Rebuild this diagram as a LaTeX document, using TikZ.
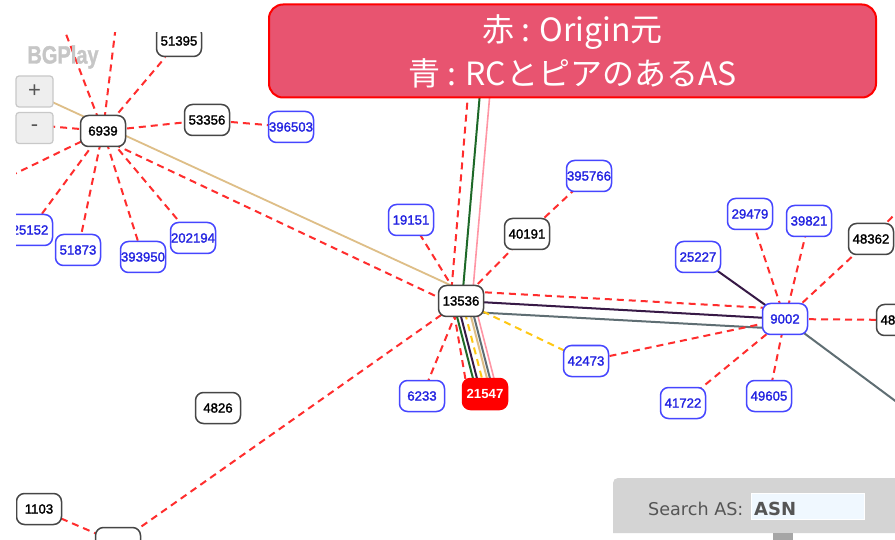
\documentclass[tikz,border=0pt]{standalone}
\usepackage{fontspec}
\setmainfont{Liberation Sans}
\newfontfamily\nodefont[FakeBold=1.8]{Liberation Sans}
\newfontfamily\logofont[BoldFeatures={FakeBold=1.5}]{Liberation Sans}
\newfontfamily\cjkfont{Noto Sans CJK JP}
\newfontfamily\dvfont{DejaVu Sans}
\pgfdeclarelayer{back}
\pgfdeclarelayer{edges}
\pgfsetlayers{back,edges,main}
\definecolor{dashred}{RGB}{255,45,45}
\definecolor{dashyellow}{RGB}{255,200,20}
\definecolor{nodegray}{RGB}{70,70,70}
\definecolor{nodeblue}{RGB}{70,70,255}
\definecolor{textblue}{RGB}{35,35,225}
\definecolor{originred}{RGB}{255,0,0}
\definecolor{tanline}{RGB}{222,190,135}
\definecolor{greenline}{RGB}{30,105,40}
\definecolor{pinkline}{RGB}{255,150,165}
\definecolor{purpleline}{RGB}{55,25,70}
\definecolor{slateline}{RGB}{95,110,115}
\definecolor{bannerfill}{RGB}{232,84,112}
\definecolor{panelgray}{RGB}{212,212,212}
\definecolor{btnfill}{RGB}{238,238,238}
\definecolor{btnline}{RGB}{200,200,200}
\definecolor{logogray}{RGB}{198,198,198}
\definecolor{inputfill}{RGB}{240,248,255}
\definecolor{searchtext}{RGB}{85,85,85}
\tikzset{
  asnode/.style={draw, rounded corners=8pt, minimum width=45pt, minimum height=31pt,
    inner sep=0pt, fill=white, line width=1.5pt, font=\nodefont\fontsize{13.2}{14}\selectfont},
  asblack/.style={asnode, draw=nodegray, text=black},
  asblue/.style={asnode, draw=nodeblue, text=textblue},
  asorigin/.style={asnode, draw=originred, fill=originred, text=white,
    font=\bfseries\fontsize{13.2}{14}\selectfont},
  rdash/.style={draw=dashred, line width=2pt, dash pattern=on 7pt off 5pt},
  ydash/.style={draw=dashyellow, line width=2pt, dash pattern=on 7pt off 5pt},
  pline/.style={line width=2pt},
  btnbox/.style={draw=btnline, fill=btnfill, line width=1.2pt, rounded corners=3pt,
    minimum width=37pt, minimum height=31pt, inner sep=0pt, text=searchtext,
    font=\fontsize{22}{24}\selectfont},
  bannerbox/.style={draw=originred, fill=bannerfill, line width=2pt, rounded corners=14pt,
    minimum width=607pt, minimum height=93pt, text=white, align=center,
    font=\cjkfont\fontsize{32}{44}\selectfont}
}
\begin{document}
\begin{tikzpicture}[x=1pt,y=-1pt]
\useasboundingbox (0,0) rectangle (895,540);
\begin{pgfonlayer}{back}
\fill[white] (0,0) rectangle (895,540);
\end{pgfonlayer}

% nodes
\begin{scope}
\clip (16,33) rectangle (895,540);
\node[asblack] (n51395) at (179,41) {51395};
\node[asblack] (n6939) at (103,131) {6939};
\node[asblack] (n53356) at (207,120) {53356};
\node[asblue] (n396503) at (291,127) {396503};
\node[asblue] (n25152) at (30,230) {25152};
\node[asblue] (n51873) at (78,250) {51873};
\node[asblue] (n393950) at (143,257) {393950};
\node[asblue] (n202194) at (193,238) {202194};
\node[asblue] (n19151) at (411,220) {19151};
\node[asblack] (n40191) at (527,234) {40191};
\node[asblue] (n395766) at (589,176) {395766};
\node[asblack] (n13536) at (461,301) {13536};
\node[asblue] (n42473) at (586,361) {42473};
\node[asblue] (n6233) at (422,396) {6233};
\node[asorigin] (n21547) at (485,394) {21547};
\node[asblue] (n29479) at (750,214) {29479};
\node[asblue] (n39821) at (809,221) {39821};
\node[asblack] (n48362) at (871,239) {48362};
\node[asblue] (n25227) at (698,257) {25227};
\node[asblue] (n9002) at (785,319) {9002};
\node[asblack] (n48x) at (899,320) {48\phantom{000}};
\node[asblue] (n41722) at (683,403) {41722};
\node[asblue] (n49605) at (769,396) {49605};
\node[asblack] (n4826) at (218,408) {4826};
\node[asblack] (n1103) at (39,509) {1103};
\node[asblack] (nbot) at (118,543) {};
\end{scope}

% edges
\begin{pgfonlayer}{edges}
\begin{scope}
\clip (16,33) rectangle (895,540);
\coordinate (cUL) at (53,0);
\coordinate (cU) at (119,0);
\coordinate (cL) at (0,122);
\coordinate (cLL) at (0,181);
\coordinate (cTan) at (0,78);
\coordinate (cUpR) at (476,0);
\coordinate (cUpG) at (488,0);
\coordinate (cUpP) at (498,0);
\coordinate (cSE) at (960,449);
\coordinate (cNE) at (920,188);
% 6939 star
\foreach \t in {cUL,cU,n51395,n53356,cL,cLL,n25152,n51873,n393950,n202194}
  \draw[rdash] (n6939.center) -- (\t);
\draw[tanline, line width=1.8pt] ([yshift=11pt]n13536.center) -- (cTan);
\draw[rdash] ([yshift=-8pt]n6939.center) -- ([yshift=-7pt]n13536.center);
\draw[rdash] (n53356.center) -- (n396503.center);
% 13536
\foreach \t in {n19151,n40191,n6233,nbot}
  \draw[rdash] (n13536.center) -- (\t.center);
\draw[rdash] (n40191.center) -- (n395766.center);
\draw[rdash] (n1103.center) -- (nbot.center);
\draw[rdash] ([xshift=-10.5pt]n13536.center) -- (cUpR);
\draw[pline, greenline] ([xshift=1pt]n13536.center) -- (cUpG);
\draw[pline, pinkline, line width=1.6pt] ([xshift=11pt]n13536.center) -- (cUpP);
% bundle to origin
\draw[rdash] ([xshift=-9pt]n13536.center) -- ([xshift=-17pt]n21547.center);
\draw[pline, greenline] ([xshift=-8pt]n13536.center) -- ([xshift=-8pt]n21547.center);
\draw[pline, purpleline] ([xshift=-4pt]n13536.center) -- ([xshift=-4pt]n21547.center);
\draw[ydash] ([xshift=1pt]n13536.center) -- ([xshift=1pt]n21547.center);
\draw[pline, tanline] ([xshift=6pt]n13536.center) -- ([xshift=6pt]n21547.center);
\draw[pline, slateline] ([xshift=9pt]n13536.center) -- ([xshift=9pt]n21547.center);
\draw[pline, pinkline, line width=1.6pt] ([xshift=13pt]n13536.center) -- ([xshift=13pt]n21547.center);
% to 9002
\draw[rdash] ([yshift=10pt]n13536.center) -- ([yshift=10pt]n9002.center);
\draw[pline, purpleline] (n13536.center) -- (n9002.center);
\draw[pline, slateline] ([yshift=-10.5pt]n13536.center) -- ([yshift=-10pt]n9002.center);
\draw[pline, slateline] (n9002.center) -- (cSE);
\draw[ydash] (n13536.center) -- (n42473.center);
\draw[rdash] (n42473.center) -- (n9002.center);
\draw[pline, purpleline] (n25227.center) -- (n9002.center);
\foreach \t in {n29479,n39821,n48362,n48x,n41722,n49605}
  \draw[rdash] (n9002.center) -- (\t.center);
\draw[rdash] (n48362.center) -- (cNE);
\end{scope}
\end{pgfonlayer}

% overlay widgets
\node[text=logogray, font=\logofont\bfseries\fontsize{25}{26}\selectfont, xscale=0.8] (logo) at (63,57) {BGPlay};
\node[btnbox] (plus) at (34.5,91.5) {+};
\node[btnbox] (minus) at (34.5,128) {-};
\node[bannerbox] (banner) at (572.5,51) {赤 : Origin元\\青 : RCとピアのあるAS};

% search panel
\fill[panelgray] (613,533) [rounded corners=5pt] -- (613,478) [sharp corners] -- (900,478) -- (900,533) -- cycle;
\fill[gray!70] (773,533) rectangle (793,540);
\node[anchor=base west, text=searchtext, font=\dvfont\fontsize{17.6}{18}\selectfont, inner sep=0pt] (searchlbl) at (648,515) {Search AS:};
\node[draw=white, fill=inputfill, minimum width=113pt, minimum height=26pt, inner sep=0pt] (input) at (807.5,506) {};
\node[anchor=base west, text=searchtext, font=\dvfont\bfseries\fontsize{18}{19}\selectfont, inner sep=0pt] (asn) at (754,515) {ASN};
\end{tikzpicture}
\end{document}
